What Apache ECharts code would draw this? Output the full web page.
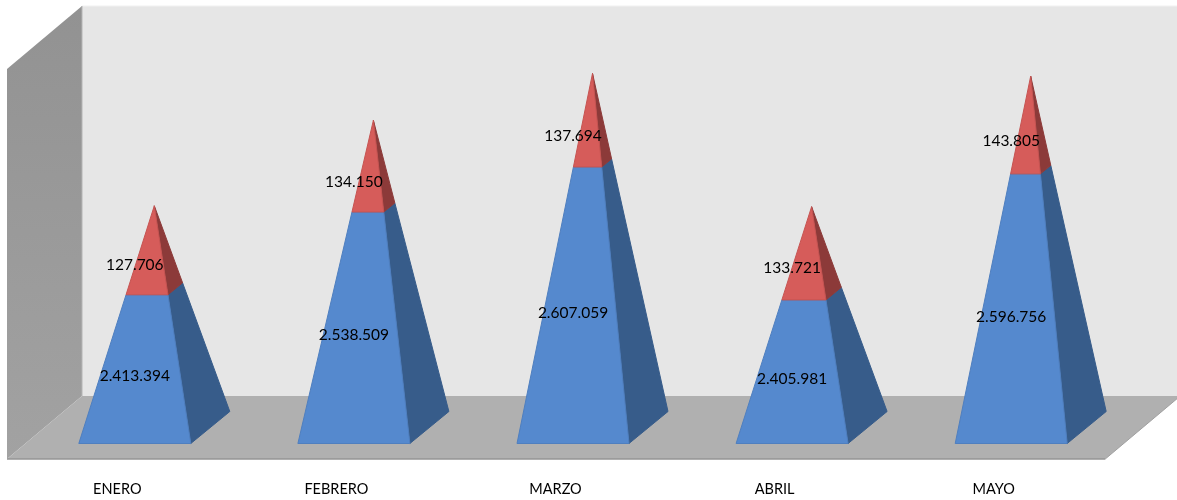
<!DOCTYPE html>
<html><head><meta charset="utf-8">
<script src="https://cdn.jsdelivr.net/npm/echarts@6/dist/echarts.min.js"></script>
<style>html,body{margin:0;padding:0;background:#fff}#c{width:1177px;height:500px}</style>
</head><body><div id="c"></div>
<script>
const categories = ['ENERO','FEBRERO','MARZO','ABRIL','MAYO'];
const baseValues = [2413394,2538509,2607059,2405981,2596756];
const topValues = [127706,134150,137694,133721,143805];
const axisMin = 2200000, axisMax = 2800000;

const DX = 37.5, DY = 31.5;      // half depth of the chart box
const EXTRA = 2.5;               // floor overhang past the last band
const HW = 56, PDX = 19.5, PDY = 16; // pyramid base half width, half depth
const FONT = 'Lato';

const fmt = v => String(v).replace(/\B(?=(\d{3})+$)/g,'.');

function poly(points, fill, stroke){
  return {type:'polygon', shape:{points}, style:{fill, stroke:stroke||null, lineWidth:stroke?1:0}};
}
function wallItem(params){
  const c = params.coordSys;
  const bx = c.x + DX - 0.25, by = c.y + c.height - DY, ty = c.y - DY;
  const fx = c.x - DX - 0.25, fy = c.y + c.height + DY, fty = c.y + DY;
  const bRight = c.x + c.width + DX + EXTRA, fRight = c.x + c.width - DX + EXTRA;
  return {type:'group', children:[
    poly([[bx,ty],[bRight,ty],[bRight,by],[bx,by]], '#E6E6E6'),
    {type:'line', shape:{x1:bx,y1:ty,x2:bRight,y2:ty}, style:{stroke:'#F1F1F1',lineWidth:1}},
    poly([[fx,fty],[bx,ty],[bx,by],[fx,fy]],
      {type:'linear',x:0,y:0,x2:0,y2:1,colorStops:[{offset:0,color:'#929292'},{offset:1,color:'#A2A2A2'}]}),
    {type:'line', shape:{x1:bx,y1:ty,x2:bx,y2:by}, style:{stroke:'#B4B4B4',lineWidth:1}},
    poly([[bx,by],[bRight,by],[fRight,fy],[fx,fy]], '#B0B0B0'),
    {type:'polyline', shape:{points:[[fx,fy],[fRight,fy]]}, style:{stroke:'#959595',lineWidth:1.5,fill:null}},
    {type:'line', shape:{x1:fRight,y1:fy,x2:bRight,y2:by}, style:{stroke:'#A0A0A0',lineWidth:1}}
  ]};
}
function segment(front, side, edge){
  return function(params, api){
    const i = api.value(0), lo = api.value(1), hi = api.value(2), total = api.value(3);
    const base = api.coord([i, axisMin]);
    const apex = api.coord([i, total]);
    const cx = base[0], by = base[1];
    const tOf = v => (v - axisMin)/(total - axisMin);
    const at = (corner, t) => [corner[0]+(apex[0]-corner[0])*t, corner[1]+(apex[1]-corner[1])*t];
    const FL = [cx-HW-PDX, by+PDY], FR = [cx+HW-PDX, by+PDY], BR = [cx+HW+PDX, by-PDY];
    const t0 = tOf(lo), t1 = tOf(hi);
    return {type:'group', children:[
      poly([at(FR,t0),at(BR,t0),at(BR,t1),at(FR,t1)], side, side),
      poly([at(FL,t0),at(FR,t0),at(FR,t1),at(FL,t1)], front, edge)
    ]};
  };
}
function labelItem(params, api){
  const i = api.value(0), lo = api.value(1), hi = api.value(2), shown = api.value(4);
  const mid = api.coord([i, (lo+hi)/2]);
  return {type:'text', x:mid[0]-PDX, y:mid[1]+18,
    style:{text:fmt(shown), fill:'#000', font:'15.5px '+FONT, align:'center', verticalAlign:'middle'}};
}
const blueData = categories.map((c,i)=>[i,axisMin,baseValues[i],baseValues[i]+topValues[i],baseValues[i]]);
const redData  = categories.map((c,i)=>[i,baseValues[i],baseValues[i]+topValues[i],baseValues[i]+topValues[i],topValues[i]]);
const enc = {x:0,y:2};

echarts.init(document.getElementById('c'),null,{renderer:'canvas'}).setOption({
  animation:false,
  backgroundColor:'#fff',
  grid:{left:44.75,width:1095.5,top:37.5,height:390},
  xAxis:{type:'category',data:categories,axisLine:{show:false},axisTick:{show:false},splitLine:{show:false},
    axisLabel:{interval:0,margin:54,padding:[0,74,0,0],color:'#000',fontFamily:FONT,fontSize:14.5}},
  yAxis:{type:'value',min:axisMin,max:axisMax,show:false,splitLine:{show:false}},
  series:[
    {type:'custom',z:1,silent:true,clip:false,data:[[0,axisMin,axisMax,axisMax,0]],encode:enc,renderItem:wallItem},
    {type:'custom',z:2,silent:true,clip:false,data:blueData,encode:enc,renderItem:segment('#5589CE','#375C8A','#4F7FBF')},
    {type:'custom',z:3,silent:true,clip:false,data:redData,encode:enc,renderItem:segment('#D65C5A','#8C3A39','#C65452')},
    {type:'custom',z:4,silent:true,clip:false,data:blueData,encode:enc,renderItem:labelItem},
    {type:'custom',z:4,silent:true,clip:false,data:redData,encode:enc,renderItem:labelItem}
  ]
});
</script></body></html>
